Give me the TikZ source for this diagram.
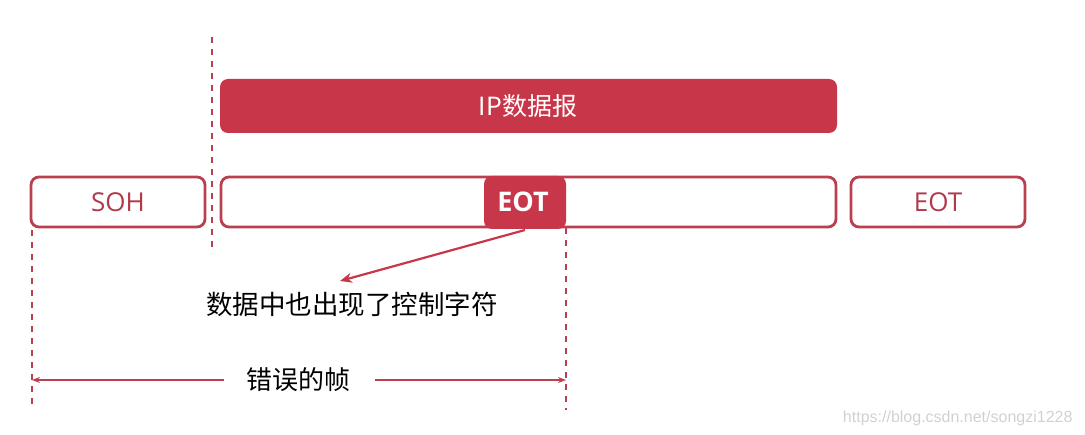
\documentclass[tikz,border=0pt]{standalone}
\usepackage{fontspec}
\setmainfont{Open Sans}
\newfontfamily\cjk{Noto Sans CJK SC}
\newfontfamily\wm{Liberation Sans}
\usetikzlibrary{arrows.meta}
\definecolor{redfill}{HTML}{C8364A}
\definecolor{redline}{HTML}{B8404F}
\definecolor{redtext}{HTML}{B03A4A}
\tikzset{
  outbox/.style={draw=redline, line width=2.8pt, rounded corners=8pt, fill=white},
  fillbox/.style={fill=redfill, rounded corners=8pt},
  vdash/.style={draw=redline, line width=1.2pt, dash pattern=on 6pt off 6pt},
  pointer/.style={draw=redfill, line width=2.2pt, -{Stealth[length=12pt,width=10pt]}},
  dim/.style={draw=redline, line width=1.4pt, -{Stealth[length=8pt,width=6pt]}},
  redlbl/.style={text=redtext, font=\fontsize{26}{28}\selectfont},
}
\begin{document}
\begin{tikzpicture}[x=1pt,y=-1pt]
\useasboundingbox (0,0) rectangle (1085,435);
% dashed verticals
\draw[vdash] (212,37) -- (212,253);
\draw[vdash] (32,230) -- (32,408);
\draw[vdash] (566,228) -- (566,410);
% IP datagram
\path[fillbox] (220,79) rectangle (837,133);
\node (ip) at (528,106) {\color{white}\cjk\fontsize{25}{28}\selectfont IP数据报};
% frame boxes
\path[outbox] (31,177) rectangle (205,227);
\node[redlbl] (soh) at (118,202) {SOH};
\path[outbox] (221,177) rectangle (836,227);
\path[outbox] (851,177) rectangle (1025,227);
\node[redlbl] (eot2) at (938,202) {EOT};
% inner EOT
\path[fillbox] (484,176) rectangle (566,229);
\node (eot) at (523,202) {\color{white}\bfseries\fontsize{27}{30}\selectfont EOT};
% pointer
\coordinate (ps) at (525,230);
\node (note) at (352,304) {\cjk\fontsize{26.5}{30}\selectfont 数据中也出现了控制字符};
\coordinate (pe) at (340,281);
\draw[pointer] (ps) -- (pe);
% error frame dimension
\node (err) at (298,380) {\cjk\fontsize{26}{30}\selectfont 错误的帧};
\coordinate (dl) at (32,380);
\coordinate (dr) at (566,380);
\draw[dim] (224,380) -- (dl);
\draw[dim] (375,380) -- (dr);
% watermark
\node[anchor=east, text=black!18, font=\wm\fontsize{16}{18}\selectfont] (wmk) at (1076,418) {https://blog.csdn.net/songzi1228};
\end{tikzpicture}
\end{document}
